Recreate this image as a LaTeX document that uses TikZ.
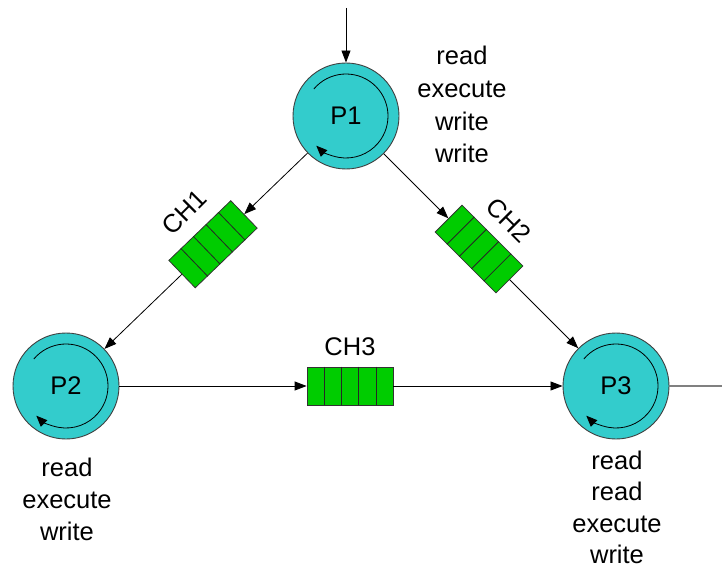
\documentclass[tikz,border=0pt]{standalone}
\usepackage{fontspec}
\setmainfont{Liberation Sans}
\usetikzlibrary{arrows.meta,calc}
\definecolor{procfill}{RGB}{51,204,204}
\definecolor{chanfill}{RGB}{0,204,0}
\begin{document}
\begin{tikzpicture}[x=1pt,y=-1pt,
  font=\fontsize{25.5}{30}\selectfont,
  tip/.style={-{Triangle[length=12pt,width=9pt]}},
  link/.style={draw=black, line width=0.8pt},
  outlink/.style={draw=black!50, line width=1.3pt},
  procnode/.style={circle, draw=black!75, line width=0.9pt, fill=procfill,
    minimum size=106pt, inner sep=0pt},
  chbox/.style={rectangle, draw=black!80, line width=0.8pt, fill=chanfill,
    minimum width=86pt, minimum height=38pt, inner sep=0pt},
  cyclearrow/.style={line width=0.8pt, -{Triangle[length=11pt,width=9pt]}},
  divider/.style={draw=black!85, line width=0.8pt},
  chlabel/.style={inner sep=0pt},
  oplabel/.style={anchor=base, inner sep=0pt}
]
% page frame
\useasboundingbox (0,0) rectangle (722,569);

% processes
\node[procnode] (p1) at (346,116) {P1};
\node[procnode] (p2) at (66,386) {P2};
\node[procnode] (p3) at (616,386) {P3};

% circular "loop" marks inside each process
\foreach \p in {p1,p2,p3}
  \draw[cyclearrow] ($(\p.center)+(-140:42)$) arc[start angle=-140, end angle=135, radius=42];

% channels
\path (p1.center) -- node[chbox, sloped, pos=0.475] (ch1) {} (p2.center);
\path (p1.center) -- node[chbox, sloped, pos=0.4926] (ch2) {} (p3.center);
\node[chbox] (ch3) at (350,386) {};

% queue cells
\foreach \c in {ch1,ch2,ch3}
  \foreach \f in {0.2,0.4,0.6,0.8}
    \draw[divider] ($(\c.north west)!\f!(\c.north east)$) -- ($(\c.south west)!\f!(\c.south east)$);

% channel names
\node[chlabel, rotate=45] (l1) at (184,212) {CH1};
\node[chlabel, rotate=-45] (l2) at (509,220) {CH2};
\node[chlabel] (l3) at (350,347) {CH3};

% connectors
\coordinate (src) at (346,8);
\coordinate (sink) at (722,386);
\draw[link, tip] (src) -- (p1);
\draw[link, tip] (p1) -- (ch1);
\draw[link, tip] (ch1) -- (p2);
\draw[link, tip] (p1) -- (ch2);
\draw[link, tip] (ch2) -- (p3);
\draw[link, tip] (p2) -- (ch3);
\draw[link, tip] (ch3) -- (p3);
\draw[outlink] (p3) -- (sink);

% operation sequences
\foreach \w [count=\i] in {read,execute,write,write}
  \node[oplabel] (opa\i) at (462,{64.5+32.8*(\i-1)}) {\w};
\foreach \w [count=\i] in {read,execute,write}
  \node[oplabel] (opb\i) at (67,{476+32*(\i-1)}) {\w};
\foreach \w [count=\i] in {read,read,execute,write}
  \node[oplabel] (opc\i) at (617,{469+31.5*(\i-1)}) {\w};
\end{tikzpicture}
\end{document}
